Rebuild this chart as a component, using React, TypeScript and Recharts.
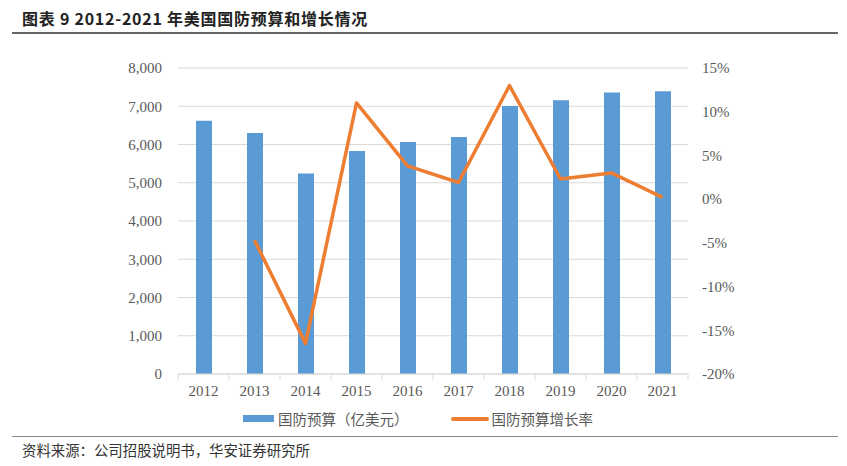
import React from "react";
import {
  ComposedChart, Bar, Line, XAxis, YAxis, CartesianGrid,
} from "recharts";

const years = ["2012", "2013", "2014", "2015", "2016", "2017", "2018", "2019", "2020", "2021"];
// 国防预算（亿美元）
const budget = [6620, 6300, 5240, 5830, 6065, 6195, 7005, 7160, 7360, 7390];
// 国防预算增长率（%）
const growth = [null, -4.7, -16.5, 11.0, 3.8, 1.9, 13.0, 2.3, 3.0, 0.2];

const leftTicks = [0, 1000, 2000, 3000, 4000, 5000, 6000, 7000, 8000];
const rightTicks = [-20, -15, -10, -5, 0, 5, 10, 15];

const BLUE = "#5B9BD5";
const ORANGE = "#ED7D31";
const GRID = "#d9d9d9";
const AXIS_TEXT = "#595959";
const SERIF = "'Liberation Serif', 'Times New Roman', serif";
const CJK = "'Noto Sans CJK SC', sans-serif";

const data = years.map((y, i) => ({ year: y, budget: budget[i], growth: growth[i] }));

// Excel 风格：刻度线在类别之间
function YearTick(props: any) {
  const { x, y, payload, index } = props;
  const half = payload?.offset ?? 25.5;
  const axisY = y - 10;
  return (
    <g>
      <line x1={x - half} y1={axisY} x2={x - half} y2={axisY + 6} stroke={GRID} />
      {index === years.length - 1 && (
        <line x1={x + half} y1={axisY} x2={x + half} y2={axisY + 6} stroke={GRID} />
      )}
      <text x={x} y={y + 12} textAnchor="middle" fill={AXIS_TEXT} fontSize={15} fontFamily={SERIF}>
        {payload.value}
      </text>
    </g>
  );
}

export default function App() {
  return (
    <div style={{ position: "absolute", left: 0, top: 0, width: 847, height: 466, background: "#fff" }}>
      {/* 标题 */}
      <div style={{
        position: "absolute", left: 22, top: 7, fontFamily: CJK, fontWeight: 700,
        fontSize: 16, letterSpacing: 0.75, color: "#222", whiteSpace: "nowrap", lineHeight: "22px",
      }}>
        图表 9 2012-2021 年美国国防预算和增长情况
      </div>
      <div style={{ position: "absolute", left: 12, top: 32, width: 826, height: 2, background: "#666" }} />

      <ComposedChart
        width={847}
        height={466}
        data={data}
        margin={{ top: 68, right: 99, left: 100, bottom: 62 }}
        style={{ position: "absolute", left: 0, top: 0 }}
        barCategoryGap="34%"
      >
        <CartesianGrid vertical={false} stroke={GRID} yAxisId="left" />
        <XAxis
          dataKey="year"
          height={30}
          axisLine={{ stroke: GRID }}
          tickLine={false}
          tickSize={6}
          tickMargin={4}
          tick={<YearTick />}
          interval={0}
        />
        <YAxis
          yAxisId="left"
          width={78}
          domain={[0, 8000]}
          ticks={leftTicks}
          axisLine={false}
          tickLine={false}
          tickSize={0}
          tickMargin={16}
          tick={{ fill: AXIS_TEXT, fontSize: 15, fontFamily: SERIF }}
          tickFormatter={(v: number) => v.toLocaleString("en-US")}
          interval={0}
        />
        <YAxis
          yAxisId="right"
          orientation="right"
          width={60}
          domain={[-20, 15]}
          ticks={rightTicks}
          axisLine={false}
          tickLine={false}
          tickSize={0}
          tickMargin={14}
          tick={{ fill: AXIS_TEXT, fontSize: 15, fontFamily: SERIF, textAnchor: "start" }}
          tickFormatter={(v: number) => `${v}%`}
          interval={0}
        />
        <Bar yAxisId="left" dataKey="budget" fill={BLUE} barSize={16} isAnimationActive={false} />
        <Line
          yAxisId="right"
          dataKey="growth"
          stroke={ORANGE}
          strokeWidth={3.5}
          dot={false}
          activeDot={false}
          type="linear"
          strokeLinejoin="round"
          isAnimationActive={false}
        />
      </ComposedChart>

      {/* 图例 */}
      <div style={{ position: "absolute", left: 243, top: 408, display: "flex", alignItems: "center", fontFamily: CJK, fontSize: 14.5, color: AXIS_TEXT, whiteSpace: "nowrap" }}>
        <span style={{ display: "inline-block", width: 31, height: 7, background: BLUE, marginRight: 4 }} />
        <span>国防预算（亿美元）</span>
        <span style={{ display: "inline-block", width: 38, height: 4, background: ORANGE, borderRadius: 2, marginLeft: 42, marginRight: 3 }} />
        <span>国防预算增长率</span>
      </div>

      {/* 来源 */}
      <div style={{ position: "absolute", left: 12, top: 436, width: 826, height: 1, background: "#888" }} />
      <div style={{ position: "absolute", left: 22, top: 440, fontFamily: CJK, fontSize: 14.4, color: "#333", whiteSpace: "nowrap", lineHeight: "20px" }}>
        资料来源：公司招股说明书，华安证券研究所
      </div>
    </div>
  );
}
